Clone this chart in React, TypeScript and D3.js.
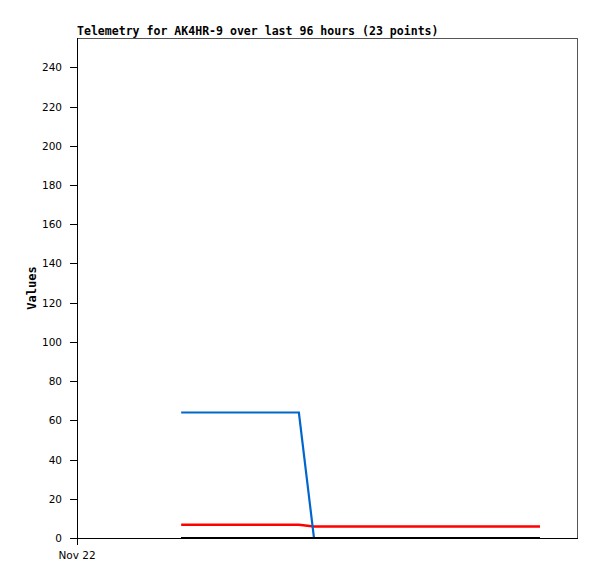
import React from "react";
import * as d3 from "d3";

const title = "Telemetry for AK4HR-9 over last 96 hours (23 points)";
const yLabel = "Values";
const startTime = new Date(2023, 10, 22, 0, 0);
const endTime = new Date(2023, 10, 26, 0, 0);
const xTickLabels = ["Nov 22"];
const yTicks = [0, 20, 40, 60, 80, 100, 120, 140, 160, 180, 200, 220, 240];

// hours since Nov 22 00:00
const hours = [20.0, 23.2, 26.5, 29.7, 32.9, 36.1, 39.4, 42.6, 45.5, 48.6, 51.7, 54.8, 57.9, 61.0, 64.1, 67.2, 70.3, 73.4, 76.5, 79.6, 82.7, 85.8, 88.9];
const blueValues = [64, 64, 64, 64, 64, 64, 64, 64, 0, 0, 0, 0, 0, 0, 0, 0, 0, 0, 0, 0, 0, 0, 0];
const redValues = [6.7, 6.7, 6.7, 6.7, 6.7, 6.7, 6.7, 6.7, 5.9, 5.9, 5.9, 5.9, 5.9, 5.9, 5.9, 5.9, 5.9, 5.9, 5.9, 5.9, 5.9, 5.9, 5.9];
const blackValues = [0, 0, 0, 0, 0, 0, 0, 0, 0, 0, 0, 0, 0, 0, 0, 0, 0, 0, 0, 0, 0, 0, 0];

const W = 597, H = 579;
const L = 77, T = 38, R = 577, B = 538;

export default function App() {
  const x = d3.scaleTime().domain([startTime, endTime]).range([L, R]);
  const y = d3.scaleLinear().domain([0, 255]).range([B, T]);
  const times = hours.map((h) => new Date(startTime.getTime() + h * 3600 * 1000));
  const line = d3
    .line<number>()
    .x((_, i) => x(times[i]))
    .y((d) => y(d));
  const series = [
    { values: redValues, color: "#ff0000", w: 2.5, dy: 0, crisp: false },
    { values: blueValues, color: "#0066cc", w: 2.2, dy: 0, crisp: false },
    { values: blackValues, color: "#000000", w: 2, dy: 0, crisp: true },
  ];
  return (
    <svg width={W} height={H} style={{ position: "absolute", left: 0, top: 0, background: "#fff" }}>
      <rect x={0} y={0} width={W} height={H} fill="#fff" />
      <text x={L} y={35} fontFamily="DejaVu Sans Mono" fontWeight="bold" fontSize={11.55} fill="#000">
        {title}
      </text>
      {/* frame */}
      <line x1={L} y1={T + 0.5} x2={R + 0.5} y2={T + 0.5} stroke="#555" strokeWidth={1} shapeRendering="crispEdges" />
      <line x1={R + 0.5} y1={T} x2={R + 0.5} y2={B + 0.5} stroke="#555" strokeWidth={1} shapeRendering="crispEdges" />
      <line x1={L + 0.5} y1={T} x2={L + 0.5} y2={B + 7} stroke="#000" strokeWidth={1} shapeRendering="crispEdges" />
      <line x1={L} y1={B + 0.5} x2={R + 1} y2={B + 0.5} stroke="#000" strokeWidth={1} shapeRendering="crispEdges" />
      {series.map((s, k) => (
        <path
          key={k}
          d={line(s.values) || ""}
          fill="none"
          stroke={s.color}
          strokeWidth={s.w}
          shapeRendering={s.crisp ? "crispEdges" : undefined}
          transform={`translate(0,${s.dy})`}
        />
      ))}
      {yTicks.map((t) => (
        <g key={t}>
          <line x1={L - 7} x2={L} y1={Math.round(y(t)) + 0.5} y2={Math.round(y(t)) + 0.5} stroke="#000" shapeRendering="crispEdges" />
          <text
            x={L - 15}
            y={y(t) + 4}
            textAnchor="end"
            fontFamily="DejaVu Sans"
            fontSize={10.5}
            fill="#000"
          >
            {t}
          </text>
        </g>
      ))}
      {xTickLabels.map((lab) => (
        <text key={lab} x={x(startTime)} y={559} textAnchor="middle" fontFamily="DejaVu Sans" fontSize={10.5} fill="#000">
          {lab}
        </text>
      ))}
      <text
        transform={`translate(36,${(T + B) / 2}) rotate(-90)`}
        textAnchor="middle"
        fontFamily="DejaVu Sans Mono"
        fontWeight="bold"
        fontSize={12}
        fill="#000"
      >
        {yLabel}
      </text>
    </svg>
  );
}
